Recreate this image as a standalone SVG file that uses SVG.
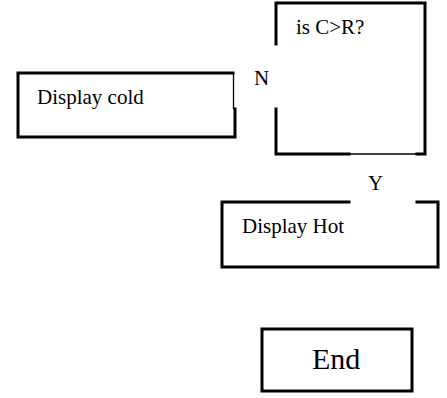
<svg xmlns="http://www.w3.org/2000/svg" width="447" height="398" viewBox="0 0 447 398">
<style>
.e{stroke:#000;stroke-width:3;fill:none;stroke-linecap:square}
.t{stroke:#000;stroke-width:1.3;fill:none}
text{font-family:"Liberation Serif","Times New Roman",serif;font-size:21px;fill:#000}
</style>
<rect width="447" height="398" fill="#fff"/>
<g id="decision">
<path class="e" d="M276,44 V3 H425 V154 H417 M349,154 H276 V109"/>
<path class="t" d="M349,154 H417"/>
<text x="296" y="34">is C&gt;R?</text>
</g>
<g id="display-cold">
<path class="e" d="M233,73 H18 V137 H235 V109"/>
<path class="t" d="M233.5,73 V109"/>
<text x="37" y="104">Display cold</text>
</g>
<g id="display-hot">
<path class="e" d="M349,202 H222 V267 H438 V202 H417"/>
<text x="242" y="233">Display Hot</text>
</g>
<g id="end">
<rect class="e" x="262" y="329" width="150" height="62"/>
<text x="312" y="369" style="font-size:30px">End</text>
</g>
<g id="connectors">
<text x="254" y="85">N</text>
<text x="368" y="190">Y</text>
</g>
</svg>
